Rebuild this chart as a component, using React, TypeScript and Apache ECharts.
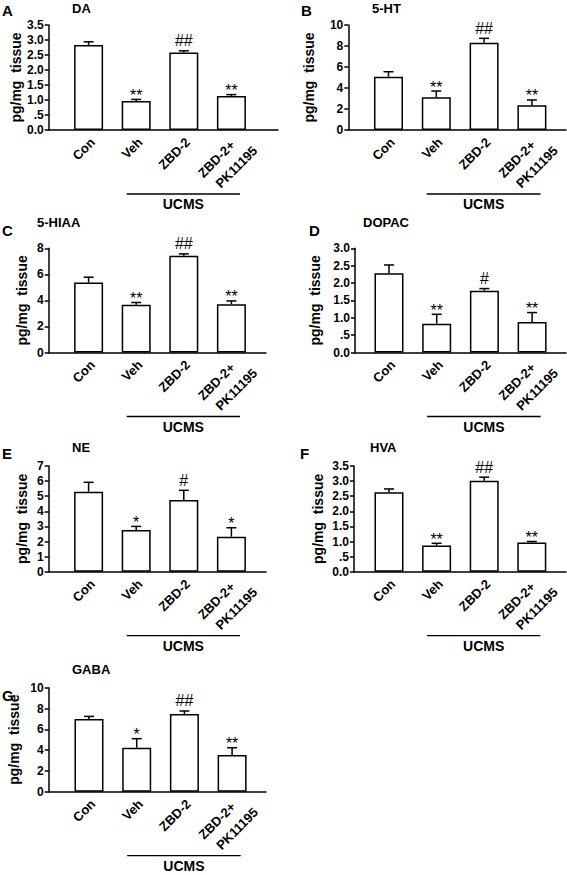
import React, { useEffect, useRef } from "react";
import * as echarts from "echarts";

// ---------- data ----------
const categories = ["Con", "Veh", "ZBD-2", "ZBD-2+\nPK11195"];
const groupLabel = "UCMS";
const yAxisName = "pg/mg  tissue";
const panelLetters = ["A", "B", "C", "D", "E", "F", "G"];
const panelTitles = ["DA", "5-HT", "5-HIAA", "DOPAC", "NE", "HVA", "GABA"];

const daMeans = [2.83, 0.97, 2.58, 1.13];
const daErrors = [0.11, 0.05, 0.06, 0.05];
const daMarks = ["", "**", "##", "**"];

const htMeans = [5.08, 3.11, 8.32, 2.35];
const htErrors = [0.47, 0.6, 0.41, 0.51];
const htMarks = ["", "**", "##", "**"];

const hiaaMeans = [5.37, 3.66, 7.42, 3.71];
const hiaaErrors = [0.41, 0.18, 0.15, 0.25];
const hiaaMarks = ["", "**", "##", "**"];

const dopacMeans = [2.28, 0.83, 1.78, 0.88];
const dopacErrors = [0.24, 0.27, 0.06, 0.27];
const dopacMarks = ["", "**", "#", "**"];

const neMeans = [5.3, 2.76, 4.75, 2.32];
const neErrors = [0.62, 0.24, 0.64, 0.59];
const neMarks = ["", "*", "#", "*"];

const hvaMeans = [2.63, 0.87, 3.01, 0.97];
const hvaErrors = [0.11, 0.07, 0.12, 0.03];
const hvaMarks = ["", "**", "##", "**"];

const gabaMeans = [6.99, 4.23, 7.47, 3.53];
const gabaErrors = [0.25, 0.87, 0.29, 0.7];
const gabaMarks = ["", "*", "##", "**"];

const yMaxes = [3.5, 10, 8, 3.0, 7, 3.5, 10];
const yIntervals = [0.5, 2, 2, 0.5, 1, 0.5, 2];

const allMeans = [daMeans, htMeans, hiaaMeans, dopacMeans, neMeans, hvaMeans, gabaMeans];
const allErrors = [daErrors, htErrors, hiaaErrors, dopacErrors, neErrors, hvaErrors, gabaErrors];
const allMarks = [daMarks, htMarks, hiaaMarks, dopacMarks, neMarks, hvaMarks, gabaMarks];

// UCMS bracket spans from just before "Veh" to just after the last group (category units)
const bracketStart = 0.8;
const bracketEnd = 3.18;

// ---------- layout (pixels) ----------
const layouts = [
  { axisX: 48.7, firstX: 88.6, step: 47.6, right: 278, top: 25, bottom: 130, nameGap: 22, lx: 2, ly: 10, tx: 72, ty: 8 },
  { axisX: 348.3, firstX: 388.5, step: 47.8, right: 566, top: 25, bottom: 130, nameGap: 32, lx: 301, ly: 10, tx: 372, ty: 8 },
  { axisX: 48.7, firstX: 88.6, step: 47.6, right: 266, top: 248.3, bottom: 352.5, nameGap: 20, lx: 2, ly: 230, tx: 37, ty: 222 },
  { axisX: 355, firstX: 389, step: 47.7, right: 566, top: 248.3, bottom: 352.5, nameGap: 33, lx: 309, ly: 230, tx: 363, ty: 222 },
  { axisX: 48.7, firstX: 88.6, step: 47.6, right: 266, top: 466, bottom: 571.7, nameGap: 20, lx: 2, ly: 453, tx: 72, ty: 447 },
  { axisX: 354, firstX: 389, step: 47.6, right: 566, top: 466, bottom: 571.7, nameGap: 29, lx: 300, ly: 453, tx: 370, ty: 447 },
  { axisX: 48.7, firstX: 89, step: 47.7, right: 266, top: 687.7, bottom: 791.7, nameGap: 28, lx: 2, ly: 695, tx: 72, ty: 669 },
];

// rotated category labels: single-line right anchor offset, and per-line centers for two-line labels
const singleLabelOffset = [4, 10];
const multiLineCenters = [
  [-15, 29],
  [5, 37],
];
const labelRotation = Math.PI / 4;

const FONT = '"Liberation Sans", Arial, Helvetica, sans-serif';
const BLACK = "#000";

function fmtY(v: number, interval: number): string {
  if (interval >= 1) return String(Math.round(v));
  let s = v.toFixed(1);
  if (v !== 0 && s.startsWith("0.")) s = s.slice(1);
  return s;
}

function txtStyle(text: string, font: string, align: string, vAlign: string) {
  return {
    text,
    fill: BLACK,
    font,
    align,
    verticalAlign: vAlign,
    textAlign: align,
    textVerticalAlign: vAlign,
  };
}

function buildOption() {
  const grid: any[] = [];
  const xAxis: any[] = [];
  const yAxis: any[] = [];
  const series: any[] = [];
  const graphic: any[] = [];

  layouts.forEach((L, p) => {
    const xMin = -(L.firstX - L.axisX) / L.step;
    const xMax = (L.right - L.firstX) / L.step;
    grid.push({
      left: L.axisX,
      top: L.top,
      width: L.right - L.axisX,
      height: L.bottom - L.top,
      containLabel: false,
    });
    xAxis.push({
      type: "value",
      gridIndex: p,
      min: xMin,
      max: xMax,
      splitLine: { show: false },
      axisLine: { show: true, onZero: false, lineStyle: { color: BLACK, width: 1.5 } },
      axisTick: { show: false },
      axisLabel: { show: false },
    });
    const interval = yIntervals[p];
    yAxis.push({
      type: "value",
      gridIndex: p,
      min: 0,
      max: yMaxes[p],
      interval,
      name: yAxisName,
      nameLocation: "middle",
      nameGap: L.nameGap,
      nameTextStyle: { color: BLACK, fontFamily: FONT, fontWeight: "bold", fontSize: 14 },
      splitLine: { show: false },
      axisLine: { show: true, onZero: false, lineStyle: { color: BLACK, width: 1.5 } },
      axisTick: { show: true, length: 4, lineStyle: { color: BLACK, width: 1.5 } },
      axisLabel: {
        margin: 5,
        color: BLACK,
        fontFamily: FONT,
        fontWeight: "bold",
        fontSize: 12,
        formatter: (v: number) => fmtY(v, interval),
      },
    });

    const means = allMeans[p];
    const errs = allErrors[p];
    const marks = allMarks[p];

    series.push({
      type: "bar",
      xAxisIndex: p,
      yAxisIndex: p,
      barWidth: 29,
      data: means.map((m, i) => [i, m]),
      itemStyle: { color: "#fff", borderColor: BLACK, borderWidth: 1.5 },
      silent: true,
    });

    // error bars + significance marks
    series.push({
      type: "custom",
      xAxisIndex: p,
      yAxisIndex: p,
      data: means.map((m, i) => [i, m, errs[i]]),
      encode: { x: 0, y: 1 },
      z: 3,
      renderItem: (params: any, api: any) => {
        const i = api.value(0);
        const m = api.value(1);
        const e = api.value(2);
        const base = api.coord([i, m]);
        const top = api.coord([i, m + e]);
        const children: any[] = [
          {
            type: "line",
            shape: { x1: base[0], y1: base[1], x2: top[0], y2: top[1] },
            style: { stroke: BLACK, lineWidth: 1.5 },
          },
          {
            type: "line",
            shape: { x1: top[0] - 5, y1: top[1], x2: top[0] + 5, y2: top[1] },
            style: { stroke: BLACK, lineWidth: 1.5 },
          },
        ];
        const mk = marks[params.dataIndex];
        if (mk) {
          const isStar = mk.charAt(0) === "*";
          children.push({
            type: "text",
            x: top[0],
            y: top[1] - (isStar ? 4 : 10),
            style: txtStyle(mk, `16px ${FONT}`, "center", "middle"),
          });
        }
        return { type: "group", children };
      },
    });

    // rotated category labels
    series.push({
      type: "custom",
      xAxisIndex: p,
      yAxisIndex: p,
      data: categories.map((_, i) => [i, 0]),
      encode: { x: 0, y: 1 },
      z: 3,
      renderItem: (params: any, api: any) => {
        const pt = api.coord([api.value(0), 0]);
        const lines = categories[params.dataIndex].split("\n");
        const font = `bold 13px ${FONT}`;
        if (lines.length === 1) {
          return {
            type: "text",
            x: pt[0] + singleLabelOffset[0],
            y: pt[1] + singleLabelOffset[1],
            rotation: labelRotation,
            style: txtStyle(lines[0], font, "right", "middle"),
          };
        }
        return {
          type: "group",
          children: lines.map((t, j) => ({
            type: "text",
            x: pt[0] + multiLineCenters[j][0],
            y: pt[1] + multiLineCenters[j][1],
            rotation: labelRotation,
            style: txtStyle(t, font, "center", "middle"),
          })),
        };
      },
    });

    // UCMS bracket
    series.push({
      type: "custom",
      xAxisIndex: p,
      yAxisIndex: p,
      data: [[bracketStart, 0, bracketEnd]],
      encode: { x: 0, y: 1 },
      z: 3,
      renderItem: (params: any, api: any) => {
        const a = api.coord([api.value(0), 0]);
        const b = api.coord([api.value(2), 0]);
        const y = a[1] + 64;
        return {
          type: "group",
          children: [
            {
              type: "line",
              shape: { x1: a[0], y1: y, x2: b[0], y2: y },
              style: { stroke: BLACK, lineWidth: 1.3 },
            },
            {
              type: "text",
              x: (a[0] + b[0]) / 2,
              y: y + 10,
              style: txtStyle(groupLabel, `bold 14px ${FONT}`, "center", "middle"),
            },
          ],
        };
      },
    });

    graphic.push({
      type: "text",
      x: L.lx,
      y: L.ly,
      style: txtStyle(panelLetters[p], `bold 15px ${FONT}`, "left", "middle"),
    });
    graphic.push({
      type: "text",
      x: L.tx,
      y: L.ty,
      style: txtStyle(panelTitles[p], `bold 13px ${FONT}`, "left", "middle"),
    });
  });

  return {
    animation: false,
    backgroundColor: "#fff",
    textStyle: { fontFamily: FONT },
    grid,
    xAxis,
    yAxis,
    series,
    graphic,
  };
}

export default function App() {
  const ref = useRef<HTMLDivElement>(null);
  useEffect(() => {
    if (!ref.current) return;
    const chart = echarts.init(ref.current, undefined, { renderer: "svg" });
    chart.setOption(buildOption() as any);
    return () => chart.dispose();
  }, []);
  return (
    <div
      ref={ref}
      style={{ position: "fixed", left: 0, top: 0, width: 567, height: 875, background: "#fff" }}
    />
  );
}
